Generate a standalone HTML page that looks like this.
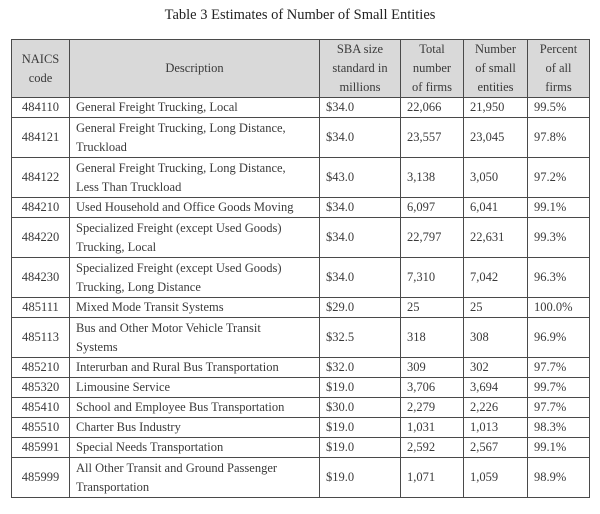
<!DOCTYPE html>
<html><head><meta charset="utf-8"><style>
body{margin:0;background:#fff;width:600px;height:514px;overflow:hidden;font-family:"Liberation Serif",serif;color:#3a3a3a;}
.title{position:absolute;left:0;width:600px;top:7px;text-align:center;font-size:14.5px;color:#222;}
table{position:absolute;left:11px;top:39px;border-collapse:collapse;table-layout:fixed;width:578px;font-size:12.5px;}
td,th{border:1.6px solid #4a4a4a;padding:0 0 0 6px;line-height:19px;height:19px;vertical-align:middle;text-align:left;font-weight:normal;}
th{background:#d9d9d9;text-align:center;padding:0;line-height:19px;height:57px;}
td.c{text-align:center;padding:0;}
tr.d td{height:39px;}
</style></head><body>
<div class="title">Table 3 Estimates of Number of Small Entities</div>
<table>
<colgroup><col style="width:58px"><col style="width:250px"><col style="width:81px"><col style="width:63px"><col style="width:64px"><col style="width:62px"></colgroup>
<tr><th>NAICS<br>code</th><th>Description</th><th>SBA size<br>standard in<br>millions</th><th>Total<br>number<br>of firms</th><th>Number<br>of small<br>entities</th><th>Percent<br>of all<br>firms</th></tr>
<tr><td class="c">484110</td><td>General Freight Trucking, Local</td><td>$34.0</td><td>22,066</td><td>21,950</td><td>99.5%</td></tr>
<tr class="d"><td class="c">484121</td><td>General Freight Trucking, Long Distance,<br>Truckload</td><td>$34.0</td><td>23,557</td><td>23,045</td><td>97.8%</td></tr>
<tr class="d"><td class="c">484122</td><td>General Freight Trucking, Long Distance,<br>Less Than Truckload</td><td>$43.0</td><td>3,138</td><td>3,050</td><td>97.2%</td></tr>
<tr><td class="c">484210</td><td>Used Household and Office Goods Moving</td><td>$34.0</td><td>6,097</td><td>6,041</td><td>99.1%</td></tr>
<tr class="d"><td class="c">484220</td><td>Specialized Freight (except Used Goods)<br>Trucking, Local</td><td>$34.0</td><td>22,797</td><td>22,631</td><td>99.3%</td></tr>
<tr class="d"><td class="c">484230</td><td>Specialized Freight (except Used Goods)<br>Trucking, Long Distance</td><td>$34.0</td><td>7,310</td><td>7,042</td><td>96.3%</td></tr>
<tr><td class="c">485111</td><td>Mixed Mode Transit Systems</td><td>$29.0</td><td>25</td><td>25</td><td>100.0%</td></tr>
<tr class="d"><td class="c">485113</td><td>Bus and Other Motor Vehicle Transit<br>Systems</td><td>$32.5</td><td>318</td><td>308</td><td>96.9%</td></tr>
<tr><td class="c">485210</td><td>Interurban and Rural Bus Transportation</td><td>$32.0</td><td>309</td><td>302</td><td>97.7%</td></tr>
<tr><td class="c">485320</td><td>Limousine Service</td><td>$19.0</td><td>3,706</td><td>3,694</td><td>99.7%</td></tr>
<tr><td class="c">485410</td><td>School and Employee Bus Transportation</td><td>$30.0</td><td>2,279</td><td>2,226</td><td>97.7%</td></tr>
<tr><td class="c">485510</td><td>Charter Bus Industry</td><td>$19.0</td><td>1,031</td><td>1,013</td><td>98.3%</td></tr>
<tr><td class="c">485991</td><td>Special Needs Transportation</td><td>$19.0</td><td>2,592</td><td>2,567</td><td>99.1%</td></tr>
<tr class="d"><td class="c">485999</td><td>All Other Transit and Ground Passenger<br>Transportation</td><td>$19.0</td><td>1,071</td><td>1,059</td><td>98.9%</td></tr>
</table>
</body></html>
